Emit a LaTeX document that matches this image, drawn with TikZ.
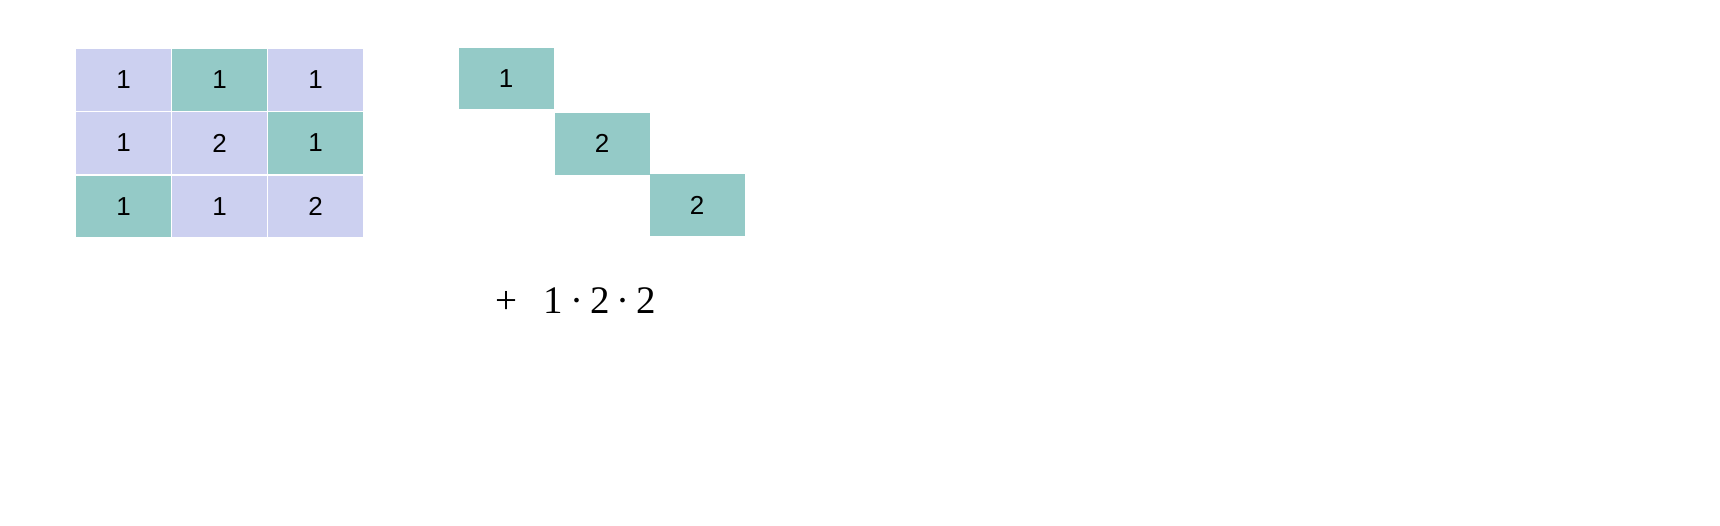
\documentclass[tikz,border=0pt]{standalone}
\usepackage{fontspec}
\newfontfamily\cellfont{Liberation Sans}
\newfontfamily\termfont{Liberation Serif}
\definecolor{lav}{RGB}{204,208,240}
\definecolor{teal}{RGB}{148,202,199}
\newcommand{\tb}[1]{\makebox[23.25pt]{#1}}
\tikzset{
  cell/.style={minimum width=95pt, minimum height=61.5pt, inner sep=0pt, outer sep=0pt,
    font=\cellfont\fontsize{26}{31}\selectfont},
  lcell/.style={cell, fill=lav},
  tcell/.style={cell, fill=teal},
}
\begin{document}
\begin{tikzpicture}[x=1pt,y=-1pt]
\useasboundingbox[fill=white] (0,0) rectangle (1720,526);
% matrix
\node[lcell] (a11) at (123.5,80) {1};
\node[tcell] (a12) at (219.5,80) {1};
\node[lcell] (a13) at (315.5,80) {1};
\node[lcell] (a21) at (123.5,143) {1};
\node[lcell] (a22) at (219.5,143) {2};
\node[tcell] (a23) at (315.5,143) {1};
\node[tcell] (a31) at (123.5,206.3) {1};
\node[lcell] (a32) at (219.5,206.3) {1};
\node[lcell] (a33) at (315.5,206.3) {2};
% diagonal
\node[tcell] (d1) at (506,78.5) {1};
\node[tcell] (d2) at (602,143.8) {2};
\node[tcell] (d3) at (697,205) {2};
% term
\node[font=\termfont\fontsize{39}{46}\selectfont, inner sep=0pt, anchor=base] (term) at (576.5,313)
  {\makebox[23pt]{+}\hspace{23.9pt}\tb{1}\tb{·}\tb{2}\tb{·}\tb{2}};
\end{tikzpicture}
\end{document}
